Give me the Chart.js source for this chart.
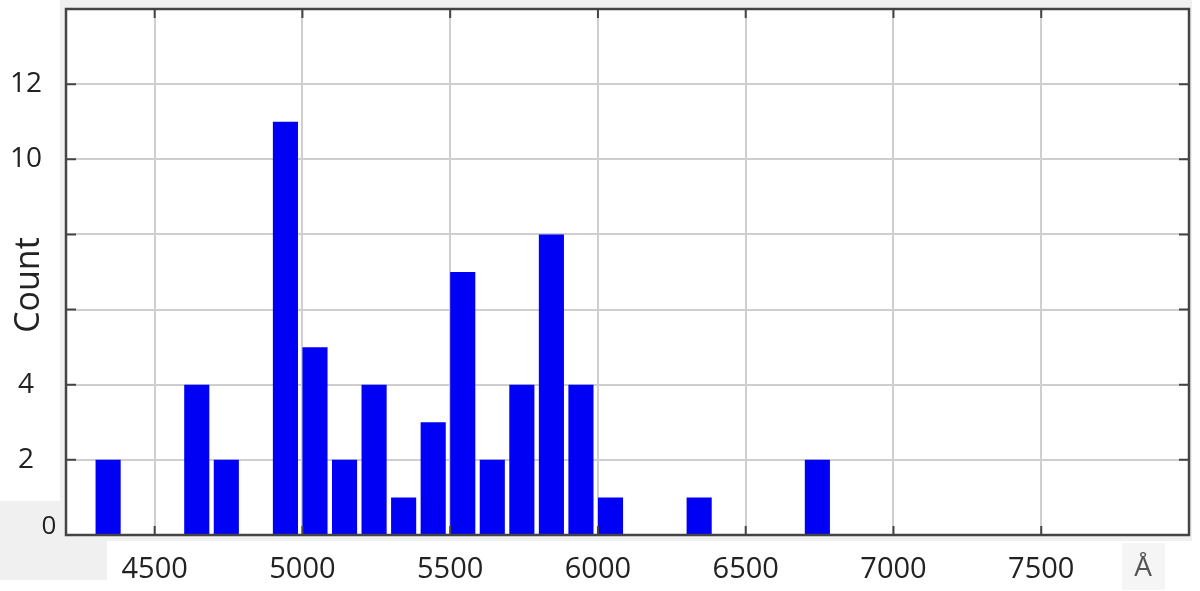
<!DOCTYPE html>
<html>
<head>
<meta charset="utf-8">
<script src="https://cdn.jsdelivr.net/npm/chart.js@4/dist/chart.umd.min.js"></script>
<style>
  html, body { margin:0; padding:0; background:#fff; }
  #wrap { position:relative; width:1200px; height:591px; }
  .bg { position:absolute; background:#f0f0f0; }
</style>
</head>
<body>
<div id="wrap">
  <div class="bg" style="left:60px;top:0;width:1132px;height:541px;"></div>
  <div class="bg" style="left:0;top:501px;width:107px;height:79px;"></div>
  <div class="bg" style="left:1122px;top:543px;width:43px;height:47px;background:#f5f5f5;"></div>
  <canvas id="Chart" width="1200" height="591" style="position:absolute;left:0;top:0;"></canvas>
</div>
<script>
// histogram bins (start of each 100 Å bin) and counts
const binStarts = [4300, 4600, 4700, 4900, 5000, 5100, 5200, 5300, 5400, 5500, 5600, 5700, 5800, 5900, 6000, 6300, 6700];
const counts    = [2,    4,    2,    11,   5,    2,    4,    1,    3,    7,    2,    4,    8,    4,    1,    1,    2];
const binWidth = 100;
const xTickLabels = [4500, 5000, 5500, 6000, 6500, 7000, 7500];
const yTickLabels = [2, 4, 10, 12];

const barFrac = 0.85;
const points = binStarts.map((s, i) => ({x: s + binWidth * barFrac / 2, y: counts[i]}));

const FONT = 'Open Sans';

const frame = {
    id: 'frame',
    beforeDraw(chart) {
        const c = chart.ctx, a = chart.chartArea;
        c.save();
        c.fillStyle = '#fff';
        c.fillRect(a.left, a.top, a.right - a.left, a.bottom - a.top);
        c.restore();
    },
    afterDraw(chart) {
        const c = chart.ctx, a = chart.chartArea;
        const xs = chart.scales.x, ys = chart.scales.y;
        c.save();
        c.strokeStyle = '#444';
        c.lineWidth = 2.5;
        c.strokeRect(a.left, a.top, a.right - a.left, a.bottom - a.top);
        c.lineWidth = 2;
        xTickLabels.forEach(v => {
            const px = xs.getPixelForValue(v);
            c.beginPath();
            c.moveTo(px, a.bottom); c.lineTo(px, a.bottom - 9);
            c.moveTo(px, a.top); c.lineTo(px, a.top + 9);
            c.stroke();
        });
        for (let v = 2; v < 14; v += 2) {
            const py = ys.getPixelForValue(v);
            c.beginPath();
            c.moveTo(a.left, py); c.lineTo(a.left + 10, py);
            c.moveTo(a.right, py); c.lineTo(a.right - 10, py);
            c.stroke();
        }
        // the zero label sits apart from the others in the original
        c.fillStyle = '#222';
        c.textAlign = 'center';
        c.textBaseline = 'middle';
        c.font = '26px "' + FONT + '"';
        c.fillText('0', 49, ys.getPixelForValue(0) - 8);
        // axis titles
        c.font = '34px "' + FONT + '"';
        c.save();
        c.translate(29, 285);
        c.rotate(-Math.PI / 2);
        c.fillText('Count', 0, 0);
        c.restore();
        c.fillStyle = '#555';
        c.font = '28px "' + FONT + '"';
        c.fillText('Å', 1143, 568);
        c.restore();
    }
};

const ctx = document.getElementById('Chart');

new Chart(ctx, {
    type: 'bar',
    data: {
        datasets: [{
            label: 'Count',
            data: points,
            backgroundColor: 'rgb(0, 0, 245)',
            borderWidth: 0,
            categoryPercentage: 1,
            barPercentage: barFrac
        }]
    },
    options: {
        responsive: false,
        animation: false,
        layout: { padding: { top: 9, right: 11, left: 0, bottom: 0 } },
        font: { family: FONT },
        scales: {
            x: {
                type: 'linear',
                min: 4200,
                max: 8000,
                offset: false,
                afterFit: s => { s.height = 56; s.paddingLeft = 0; s.paddingRight = 0; },
                afterBuildTicks: s => {
                    s.ticks = [4200].concat(xTickLabels, [8000]).map(v => ({value: v}));
                },
                grid: { color: '#cfcfcf', lineWidth: 2, drawTicks: false, offset: false },
                border: { display: false },
                ticks: {
                    padding: 17,
                    color: '#222',
                    font: { family: FONT, size: 29 },
                    callback: v => xTickLabels.includes(v) ? String(v) : ''
                }
            },
            y: {
                min: 0,
                max: 14,
                afterFit: s => { s.width = 66; s.paddingTop = 0; s.paddingBottom = 0; },
                grid: { color: '#cfcfcf', lineWidth: 2, drawTicks: false },
                border: { display: false },
                ticks: {
                    stepSize: 2,
                    padding: 24,
                    crossAlign: 'center',
                    color: '#222',
                    font: { family: FONT, size: 28 },
                    callback: v => yTickLabels.includes(v) ? String(v) : ''
                }
            }
        },
        plugins: {
            legend: { display: false },
            tooltip: { enabled: false }
        }
    },
    plugins: [frame]
});
</script>
</body>
</html>
